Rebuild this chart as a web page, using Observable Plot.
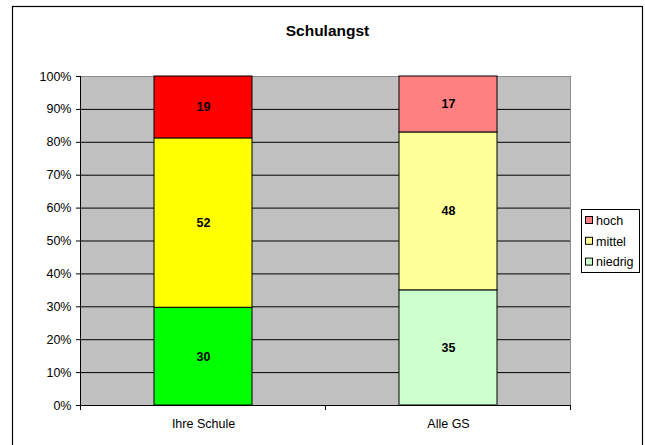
<!DOCTYPE html>
<html><head><meta charset="utf-8">
<script src="https://cdn.jsdelivr.net/npm/d3@7"></script>
<script src="https://cdn.jsdelivr.net/npm/@observablehq/plot@0.6"></script>
<style>body{margin:0;background:#fff}svg{display:block}</style>
</head><body><div id="chart"></div>
<script>
const title = "Schulangst";
const categories = ["Ihre Schule", "Alle GS"];
const levels = ["niedrig", "mittel", "hoch"];
const ihreSchule = [30, 52, 19];
const alleGS = [35, 48, 17];
const colorsIhre = ["#00FF00", "#FFFF00", "#FF0000"];
const colorsAlle = ["#CCFFCC", "#FFFF99", "#FF8080"];
const legendOrder = ["hoch", "mittel", "niedrig"];
const legendColors = {hoch: "#FF8080", mittel: "#FFFF99", niedrig: "#CCFFCC"};
const yTicks = d3.range(0, 11).map(d => d / 10);

const data = [];
levels.forEach((l, i) => data.push({cat: categories[0], level: l, value: ihreSchule[i], color: colorsIhre[i]}));
levels.forEach((l, i) => data.push({cat: categories[1], level: l, value: alleGS[i], color: colorsAlle[i]}));

const font = "'Liberation Sans', Arial, sans-serif";
const chart = Plot.plot({
  width: 645, height: 445,
  marginLeft: 80, marginRight: 75, marginTop: 76, marginBottom: 40,
  style: {fontFamily: font, fontSize: "12.5px", color: "#000", background: "#fff"},
  x: {domain: categories, paddingInner: 0.6, paddingOuter: 0.3, label: null},
  y: {domain: [0, 1], label: null},
  color: {type: "identity"},
  marks: [
    Plot.frame({fill: "#C0C0C0", stroke: "#8c8c8c"}),
    Plot.ruleY(yTicks.slice(1, 10), {stroke: "#000", strokeWidth: 1}),
    Plot.barY(data, Plot.stackY({offset: "normalize", x: "cat", y: "value", z: "level", fill: "color", stroke: "#000", strokeWidth: 1, inset: 0})),
    Plot.text(data, Plot.stackY({offset: "normalize", x: "cat", y: "value", z: "level", text: d => String(d.value), fontWeight: "bold", fontSize: 12.5, fill: "#000"})),
    Plot.ruleY([0], {stroke: "#000"}),
    Plot.axisY({ticks: yTicks, tickFormat: d3.format(".0%"), tickSize: 4, tickPadding: 5, stroke: "#000", label: null, fontSize: 12.5}),
    Plot.axisX({tickSize: 0, tickPadding: 14, label: null, fontSize: 12.5})
  ]
});
document.getElementById("chart").appendChild(chart);

const svg = d3.select(chart);
const pLeft = 80, pRight = 645 - 75, pTop = 76, pBottom = 445 - 40;
svg.append("line").attr("x1", pLeft + 0.5).attr("x2", pLeft + 0.5).attr("y1", pTop).attr("y2", pBottom).attr("stroke", "#000");
const bounds = [pLeft, (pLeft + pRight) / 2, pRight];
bounds.forEach(b => svg.append("line").attr("x1", b + 0.5).attr("x2", b + 0.5).attr("y1", pBottom).attr("y2", pBottom + 5).attr("stroke", "#000"));
svg.append("rect").attr("x", 12.5).attr("y", 6.5).attr("width", 630).attr("height", 460).attr("fill", "none").attr("stroke", "#000").attr("stroke-width", 1.2);
svg.append("text").attr("x", 327.5).attr("y", 30).attr("text-anchor", "middle").attr("dominant-baseline", "central")
  .style("font-family", font).style("font-weight", "bold").style("font-size", "15.5px").text(title);
const lg = svg.append("g").attr("text-anchor", "start");
lg.append("rect").attr("x", 581.5).attr("y", 209.5).attr("width", 58).attr("height", 63).attr("fill", "#fff").attr("stroke", "#000");
legendOrder.forEach((l, i) => {
  const cy = 220.5 + i * 20.8;
  lg.append("rect").attr("x", 585.5).attr("y", cy - 4).attr("width", 7).attr("height", 7).attr("fill", legendColors[l]).attr("stroke", "#000");
  lg.append("text").attr("x", 596).attr("y", cy).attr("dy", "0.35em").attr("text-anchor", "start")
    .style("font-family", font).style("font-size", "12.5px").text(l);
});
</script></body></html>
